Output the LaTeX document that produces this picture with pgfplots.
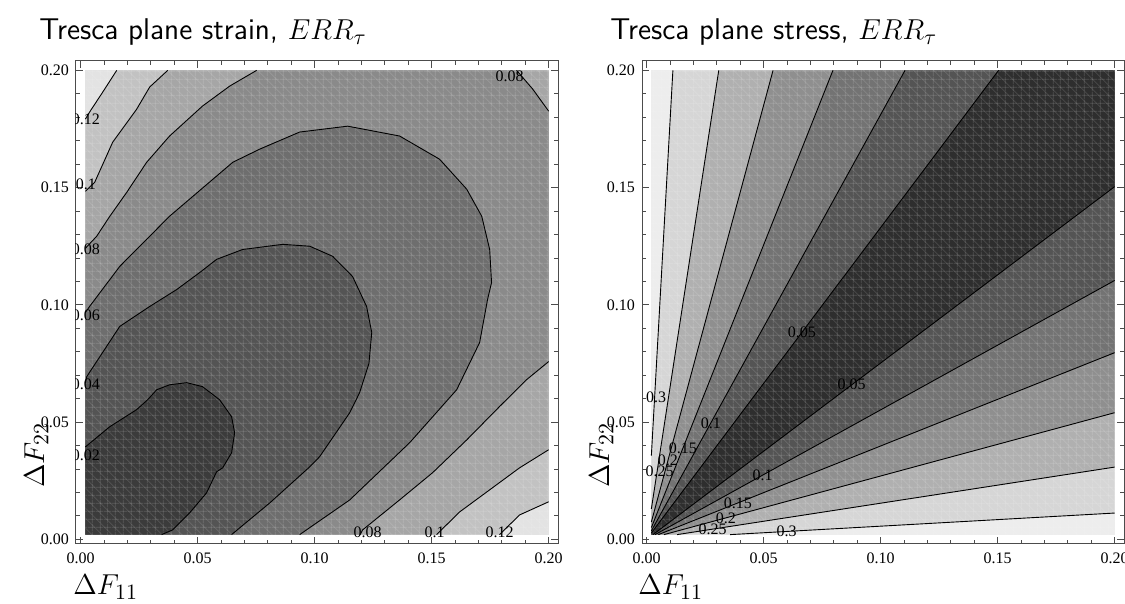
\documentclass[border=0pt]{standalone}
\usepackage{fontspec}
\usepackage{pgfplots}
\pgfplotsset{compat=1.18}
\usetikzlibrary{patterns.meta}
\newfontfamily\tms{Liberation Serif}

% left panel greys (darkest = lowest level)
\definecolor{L0}{gray}{0.23}
\definecolor{L1}{gray}{0.33}
\definecolor{L2}{gray}{0.43}
\definecolor{L3}{gray}{0.54}
\definecolor{L4}{gray}{0.65}
\definecolor{L5}{gray}{0.76}
\definecolor{L6}{gray}{0.89}
% right panel greys
\definecolor{R0}{gray}{0.18}
\definecolor{R1}{gray}{0.33}
\definecolor{R2}{gray}{0.45}
\definecolor{R3}{gray}{0.56}
\definecolor{R4}{gray}{0.69}
\definecolor{R5}{gray}{0.84}
\definecolor{R6}{gray}{0.93}

\pgfplotsset{
  panel/.style={
    scale only axis, width=241pt, height=241.5pt,
    xmin=-0.002, xmax=0.204, ymin=-0.002, ymax=0.204,
    xtick={0,0.05,0.1,0.15,0.2}, ytick={0,0.05,0.1,0.15,0.2},
    xticklabels={0.00,0.05,0.10,0.15,0.20},
    yticklabels={0.00,0.05,0.10,0.15,0.20},
    minor tick num=4, tick align=inside, tick pos=both,
    xticklabel pos=lower, yticklabel pos=left,
    major tick length=3.5pt, minor tick length=2pt,
    axis line style={black!70, line width=0.5pt},
    tick style={black!70, line width=0.4pt},
    tick label style={font=\tms\fontsize{8}{9}\selectfont},
    xticklabel style={yshift=-1pt},
  },
  ctr/.style={black, line width=0.45pt},
  mesh/.style={draw=none, pattern={Lines[angle=#1, distance=3.85pt, line width=0.35pt]}, pattern color=white, fill opacity=0.16},
}
\tikzset{lbl/.style={font=\tms\fontsize{8}{8}\selectfont, inner sep=0pt}}

\begin{document}
\begin{tikzpicture}
\useasboundingbox (0,0) rectangle (562.5pt,302pt);

% ---------------- plane strain ----------------
\begin{axis}[panel, at={(38pt,30pt)}, anchor=south west]
\addplot[fill=L6, draw=none] coordinates {(0.002,0.002)(0.2,0.002)(0.2,0.2)(0.002,0.2)} -- cycle;
\addplot[fill=L5, draw=none] coordinates {(0.0154,0.2)(0.0094,0.1907)(0.0038,0.1822)(0.002,0.1792)(0.002,0.002)(0.179,0.002)(0.1876,0.0104)(0.2,0.016)(0.2,0.2)} -- cycle;
\addplot[fill=L4, draw=none] coordinates {(0.0372,0.2)(0.0295,0.1929)(0.0239,0.1834)(0.0137,0.1694)(0.006,0.1523)(0.002,0.1484)(0.002,0.002)(0.1521,0.002)(0.162,0.0117)(0.1748,0.0211)(0.1876,0.0305)(0.2,0.0382)(0.2,0.2)} -- cycle;
\addplot[fill=L3, draw=none] coordinates {(0.0752,0.2)(0.0637,0.1933)(0.0521,0.1848)(0.038,0.172)(0.0282,0.1608)(0.0197,0.148)(0.0124,0.1377)(0.0068,0.1292)(0.002,0.1241)(0.002,0.002)(0.1195,0.002)(0.1205,0.004)(0.1363,0.0168)(0.1504,0.0284)(0.165,0.0424)(0.179,0.0566)(0.1906,0.0681)(0.2,0.0758)(0.2,0.1826)(0.1932,0.192)(0.1863,0.2)} -- cycle;
\addplot[fill=L2, draw=none] coordinates {(0.002,0.0967)(0.0038,0.0993)(0.0167,0.1164)(0.038,0.1378)(0.065,0.1608)(0.0765,0.1664)(0.0936,0.1737)(0.1141,0.1762)(0.1363,0.172)(0.1534,0.1621)(0.165,0.1493)(0.1714,0.1378)(0.1748,0.1236)(0.1756,0.1095)(0.1739,0.1023)(0.1705,0.0839)(0.1607,0.0638)(0.1406,0.0412)(0.115,0.0168)(0.0936,0.002)(0.002,0.002)} -- cycle;
\addplot[fill=L1, draw=none] coordinates {(0.002,0.0668)(0.0026,0.0694)(0.0167,0.0908)(0.0295,0.0993)(0.041,0.1065)(0.0509,0.1138)(0.0581,0.1194)(0.0692,0.1236)(0.0863,0.1258)(0.0979,0.125)(0.1077,0.1207)(0.1162,0.1121)(0.1222,0.0993)(0.1244,0.0882)(0.1232,0.075)(0.1192,0.0625)(0.115,0.054)(0.1021,0.0352)(0.0979,0.0309)(0.0808,0.0155)(0.0645,0.002)(0.002,0.002)} -- cycle;
\addplot[fill=L0, draw=none] coordinates {(0.002,0.0394)(0.0124,0.048)(0.0239,0.0553)(0.0286,0.0595)(0.0325,0.0638)(0.038,0.0659)(0.0453,0.0668)(0.0521,0.0651)(0.0594,0.0595)(0.0645,0.0523)(0.0658,0.0454)(0.0645,0.0369)(0.0607,0.0305)(0.0581,0.0288)(0.0538,0.0198)(0.0466,0.0113)(0.0393,0.004)(0.0346,0.002)(0.002,0.002)} -- cycle;
% light mesh texture over the shading
\addplot[mesh=0] coordinates {(0.002,0.002)(0.2,0.002)(0.2,0.2)(0.002,0.2)} -- cycle;
\addplot[mesh=90] coordinates {(0.002,0.002)(0.2,0.002)(0.2,0.2)(0.002,0.2)} -- cycle;
\addplot[mesh=-45] coordinates {(0.002,0.002)(0.2,0.002)(0.2,0.2)(0.002,0.2)} -- cycle;
% contour lines
\addplot[ctr] coordinates {(0.0154,0.2)(0.0094,0.1907)(0.0038,0.1822)(0.002,0.1792)};
\addplot[ctr] coordinates {(0.179,0.002)(0.1876,0.0104)(0.2,0.016)};
\addplot[ctr] coordinates {(0.0372,0.2)(0.0295,0.1929)(0.0239,0.1834)(0.0137,0.1694)(0.006,0.1523)(0.002,0.1484)};
\addplot[ctr] coordinates {(0.1521,0.002)(0.162,0.0117)(0.1748,0.0211)(0.1876,0.0305)(0.2,0.0382)};
\addplot[ctr] coordinates {(0.0752,0.2)(0.0637,0.1933)(0.0521,0.1848)(0.038,0.172)(0.0282,0.1608)(0.0197,0.148)(0.0124,0.1377)(0.0068,0.1292)(0.002,0.1241)};
\addplot[ctr] coordinates {(0.1195,0.002)(0.1205,0.004)(0.1363,0.0168)(0.1504,0.0284)(0.165,0.0424)(0.179,0.0566)(0.1906,0.0681)(0.2,0.0758)};
\addplot[ctr] coordinates {(0.2,0.1826)(0.1932,0.192)(0.1863,0.2)};
\addplot[ctr] coordinates {(0.002,0.0967)(0.0038,0.0993)(0.0167,0.1164)(0.038,0.1378)(0.065,0.1608)(0.0765,0.1664)(0.0936,0.1737)(0.1141,0.1762)(0.1363,0.172)(0.1534,0.1621)(0.165,0.1493)(0.1714,0.1378)(0.1748,0.1236)(0.1756,0.1095)(0.1739,0.1023)(0.1705,0.0839)(0.1607,0.0638)(0.1406,0.0412)(0.115,0.0168)(0.0936,0.002)};
\addplot[ctr] coordinates {(0.002,0.0668)(0.0026,0.0694)(0.0167,0.0908)(0.0295,0.0993)(0.041,0.1065)(0.0509,0.1138)(0.0581,0.1194)(0.0692,0.1236)(0.0863,0.1258)(0.0979,0.125)(0.1077,0.1207)(0.1162,0.1121)(0.1222,0.0993)(0.1244,0.0882)(0.1232,0.075)(0.1192,0.0625)(0.115,0.054)(0.1021,0.0352)(0.0979,0.0309)(0.0808,0.0155)(0.0645,0.002)};
\addplot[ctr] coordinates {(0.002,0.0394)(0.0124,0.048)(0.0239,0.0553)(0.0286,0.0595)(0.0325,0.0638)(0.038,0.0659)(0.0453,0.0668)(0.0521,0.0651)(0.0594,0.0595)(0.0645,0.0523)(0.0658,0.0454)(0.0645,0.0369)(0.0607,0.0305)(0.0581,0.0288)(0.0538,0.0198)(0.0466,0.0113)(0.0393,0.004)(0.0346,0.002)};
% contour labels
\node[lbl] at (0.0022,0.1792) {0.12};
\node[lbl] at (0.0022,0.1514) {0.1};
\node[lbl] at (0.0022,0.1236) {0.08};
\node[lbl] at (0.0022,0.0954) {0.06};
\node[lbl] at (0.0022,0.0659) {0.04};
\node[lbl] at (0.0022,0.0360) {0.02};
\node[lbl] at (0.1226,0.0031) {0.08};
\node[lbl] at (0.1513,0.0031) {0.1};
\node[lbl] at (0.1790,0.0031) {0.12};
\node[lbl] at (0.1833,0.1975) {0.08};
\end{axis}

% ---------------- plane stress ----------------
\begin{axis}[panel, at={(321pt,30pt)}, anchor=south west]
\addplot[fill=R6, draw=none] coordinates {(0.002,0.002)(0.2,0.002)(0.2,0.2)(0.002,0.2)} -- cycle;
\addplot[fill=R5, draw=none] coordinates {(0.002,0.0357)(0.0112,0.2)(0.2,0.2)(0.2,0.0112)(0.0357,0.002)(0.002,0.002)} -- cycle;
\addplot[fill=R4, draw=none] coordinates {(0.002,0.0130)(0.0308,0.2)(0.2,0.2)(0.2,0.0308)(0.0130,0.002)(0.002,0.002)} -- cycle;
\addplot[fill=R3, draw=none] coordinates {(0.002,0.0074)(0.0540,0.2)(0.2,0.2)(0.2,0.0540)(0.0074,0.002)(0.002,0.002)} -- cycle;
\addplot[fill=R2, draw=none] coordinates {(0.002,0.0050)(0.0796,0.2)(0.2,0.2)(0.2,0.0796)(0.0050,0.002)(0.002,0.002)} -- cycle;
\addplot[fill=R1, draw=none] coordinates {(0.002,0.0036)(0.1104,0.2)(0.2,0.2)(0.2,0.1104)(0.0036,0.002)(0.002,0.002)} -- cycle;
\addplot[fill=R0, draw=none] coordinates {(0.002,0.0027)(0.1504,0.2)(0.2,0.2)(0.2,0.1504)(0.0027,0.002)(0.002,0.002)} -- cycle;
\addplot[mesh=0] coordinates {(0.002,0.002)(0.2,0.002)(0.2,0.2)(0.002,0.2)} -- cycle;
\addplot[mesh=90] coordinates {(0.002,0.002)(0.2,0.002)(0.2,0.2)(0.002,0.2)} -- cycle;
\addplot[mesh=-45] coordinates {(0.002,0.002)(0.2,0.002)(0.2,0.2)(0.002,0.2)} -- cycle;
% contour lines, upper and lower branch of each level
\addplot[ctr] coordinates {(0.002,0.0357)(0.0112,0.2)};
\addplot[ctr] coordinates {(0.0357,0.002)(0.2,0.0112)};
\addplot[ctr] coordinates {(0.002,0.0130)(0.0308,0.2)};
\addplot[ctr] coordinates {(0.0130,0.002)(0.2,0.0308)};
\addplot[ctr] coordinates {(0.002,0.0074)(0.0540,0.2)};
\addplot[ctr] coordinates {(0.0074,0.002)(0.2,0.0540)};
\addplot[ctr] coordinates {(0.002,0.0050)(0.0796,0.2)};
\addplot[ctr] coordinates {(0.0050,0.002)(0.2,0.0796)};
\addplot[ctr] coordinates {(0.002,0.0036)(0.1104,0.2)};
\addplot[ctr] coordinates {(0.0036,0.002)(0.2,0.1104)};
\addplot[ctr] coordinates {(0.002,0.0027)(0.1504,0.2)};
\addplot[ctr] coordinates {(0.0027,0.002)(0.2,0.1504)};
% contour labels
\node[lbl] at (0.0040,0.0604) {0.3};
\node[lbl] at (0.0055,0.0290) {0.25};
\node[lbl] at (0.0091,0.0338) {0.2};
\node[lbl] at (0.0155,0.0390) {0.15};
\node[lbl] at (0.0274,0.0496) {0.1};
\node[lbl] at (0.0663,0.0882) {0.05};
\node[lbl] at (0.0876,0.0659) {0.05};
\node[lbl] at (0.0496,0.0274) {0.1};
\node[lbl] at (0.0390,0.0155) {0.15};
\node[lbl] at (0.0338,0.0091) {0.2};
\node[lbl] at (0.0282,0.0043) {0.25};
\node[lbl] at (0.0598,0.0034) {0.3};
\end{axis}

% titles and axis labels
\node[anchor=base west, inner sep=0pt, font=\sffamily\fontsize{15}{17}\selectfont] at (19.5pt,282pt) {Tresca plane strain, $ERR_\tau$};
\node[anchor=base west, inner sep=0pt, font=\sffamily\fontsize{15}{17}\selectfont] at (305pt,282pt) {Tresca plane stress, $ERR_\tau$};
\node[anchor=base west, font=\fontsize{15.5}{17}\selectfont, inner sep=0pt] at (36.5pt,4.5pt) {$\Delta F_{11}$};
\node[anchor=base west, font=\fontsize{15.5}{17}\selectfont, inner sep=0pt] at (319pt,4.5pt) {$\Delta F_{11}$};
\node[anchor=base west, rotate=90, font=\fontsize{15.5}{17}\selectfont, inner sep=0pt] at (22pt,58pt) {$\Delta F_{22}$};
\node[anchor=base west, rotate=90, font=\fontsize{15.5}{17}\selectfont, inner sep=0pt] at (304.5pt,58pt) {$\Delta F_{22}$};
\end{tikzpicture}
\end{document}
